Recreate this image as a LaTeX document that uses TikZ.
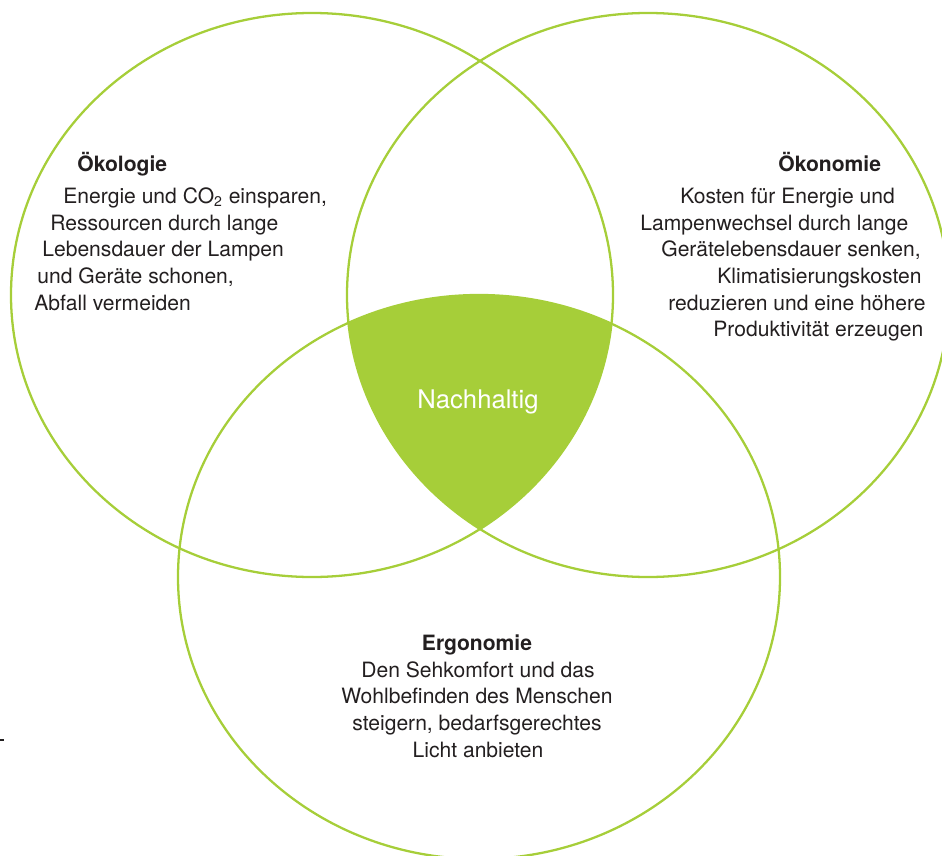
\documentclass[tikz,border=0pt]{standalone}
\usepackage{fontspec}
\setmainfont{TeX Gyre Heros}
\definecolor{leafgreen}{HTML}{A6CE39}
\definecolor{inkgray}{HTML}{231F20}
\newcommand*{\TextLines}[3]{% #1 = name prefix, #2 = anchor, #3 = list of x/y/words
  \foreach \x/\y/\words [count=\n] in {#3} {
    \node [body text, anchor=#2] (#1\n) at (\x,\y) {\words};
    }%
}

\begin{document}
\begin{tikzpicture}[x=0.02cm, y=-0.02cm,
    ring/.style={draw=leafgreen, line width=1.3pt},
    body text/.style={inner sep=0pt, text=inkgray, font=\fontsize{12}{15.2}\selectfont},
    head text/.style={body text, font=\fontsize{12}{15.2}\selectfont\bfseries}]
    \useasboundingbox (0,0) rectangle (942,855);

    % common part of all three circles
    \begin{scope}
        \clip (312,295) ellipse [x radius=301, y radius=282];
        \clip (648,295) ellipse [x radius=301, y radius=282];
        \fill [leafgreen] (479,577) ellipse [x radius=301, y radius=282];
    \end{scope}
    \draw [ring] (312,295) ellipse [x radius=301, y radius=282];
    \draw [ring] (648,295) ellipse [x radius=301, y radius=282];
    \draw [ring] (479,577) ellipse [x radius=301, y radius=282];

    \node [inner sep=0pt, text=white, font=\fontsize{14.6}{17}\selectfont, anchor=base]
      (nachhaltig) at (478,408) {Nachhaltig};

    % Oekologie
    \node [head text, anchor=base west] (oekologie) at (77,171) {Ökologie};
    \TextLines{oeko}{base west}{
        63/203/{Energie und CO\textsubscript{2} einsparen,},
        50/230/Ressourcen durch lange,
        42/256/Lebensdauer der Lampen,
        37/283/{und Geräte schonen,},
        34/310/Abfall vermeiden
    }

    % Oekonomie
    \node [head text, anchor=base west] (oekonomie) at (778,171) {Ökonomie};
    \TextLines{oekon}{base west}{
        680/203/Kosten für Energie und,
        640/230/Lampenwechsel durch lange,
        661/256/{Gerätelebensdauer senken,},
        717/283/Klimatisierungskosten,
        668/310/reduzieren und eine höhere,
        713/336/Produktivität erzeugen
    }

    % Ergonomie
    \node [head text, anchor=base] (ergonomie) at (477,650) {Ergonomie};
    \TextLines{ergo}{base}{
        478/677/Den Sehkomfort und das,
        477/703/Wohlbefinden des Menschen,
        477/730/{steigern, bedarfsgerechtes},
        478/757/Licht anbieten
    }

    \draw [inkgray, line width=0.6pt] (0,740) -- (3.5,740);
\end{tikzpicture}
\end{document}
